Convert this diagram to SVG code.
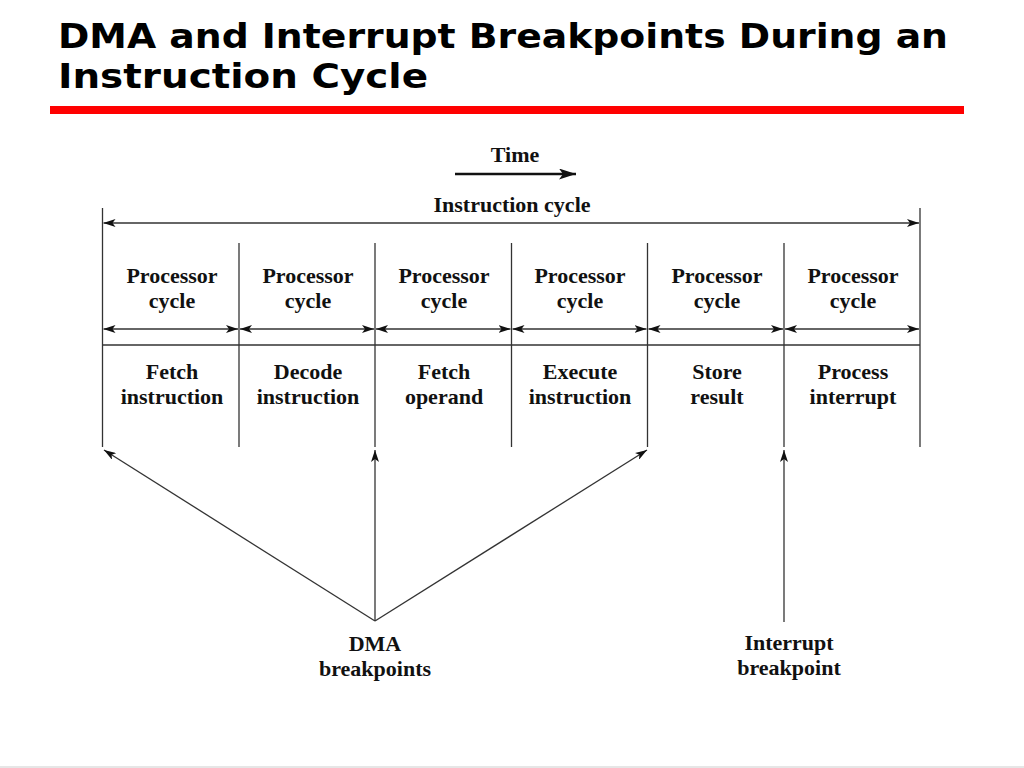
<svg xmlns="http://www.w3.org/2000/svg" width="1024" height="768" viewBox="0 0 1024 768">
<defs>
<marker id="ah" viewBox="0 0 12 8" refX="12" refY="4" markerWidth="12" markerHeight="8" markerUnits="userSpaceOnUse" orient="auto-start-reverse">
<path d="M0,0 L12,4 L0,8 L3,4 z" fill="#111"/>
</marker>
<marker id="ahb" viewBox="0 0 17 11" refX="17" refY="5.5" markerWidth="17" markerHeight="11" markerUnits="userSpaceOnUse" orient="auto">
<path d="M0,0 L17,5.5 L0,11 L4,5.5 z" fill="#111"/>
</marker>
<style>
.t{font-family:"Liberation Serif","Times New Roman",serif;font-weight:bold;font-size:22px;fill:#111;text-anchor:middle}
.ttl{font-family:"DejaVu Sans","Liberation Sans",sans-serif;font-weight:bold;font-size:34px;fill:#000}
.ln{stroke:#333;stroke-width:1.3;fill:none}
.ar{stroke:#333;stroke-width:1.3;fill:none;marker-end:url(#ah)}
.ar2{stroke:#333;stroke-width:1.3;fill:none;marker-start:url(#ah);marker-end:url(#ah)}
</style>
</defs>
<rect width="1024" height="768" fill="#fff"/>
<g id="title">
<text class="ttl" x="58" y="48" textLength="890" lengthAdjust="spacingAndGlyphs">DMA and Interrupt Breakpoints During an</text>
<text class="ttl" x="58" y="88" textLength="370" lengthAdjust="spacingAndGlyphs">Instruction Cycle</text>
<rect x="50" y="106" width="914" height="8" fill="#f00"/>
</g>
<g id="time">
<text class="t" x="515" y="162">Time</text>
<line x1="455" y1="174" x2="576" y2="174" stroke="#111" stroke-width="2.5" marker-end="url(#ahb)"/>
</g>
<g id="instruction-cycle">
<text class="t" x="512" y="212">Instruction cycle</text>
</g>
<g id="frame">
<line class="ln" x1="102.5" y1="208" x2="102.5" y2="447"/>
<line class="ln" x1="920" y1="208" x2="920" y2="447"/>
<line class="ln" x1="239" y1="243" x2="239" y2="447"/>
<line class="ln" x1="375" y1="243" x2="375" y2="447"/>
<line class="ln" x1="511.5" y1="243" x2="511.5" y2="447"/>
<line class="ln" x1="647.5" y1="243" x2="647.5" y2="447"/>
<line class="ln" x1="784" y1="243" x2="784" y2="447"/>
<line x1="102.5" y1="345" x2="920" y2="345" stroke="#333" stroke-width="1.6"/>
</g>
<g id="cycle1">
<text class="t" x="172" y="283">Processor</text><text class="t" x="172" y="308">cycle</text>
<text class="t" x="172" y="379">Fetch</text><text class="t" x="172" y="404">instruction</text>
</g>
<g id="cycle2">
<text class="t" x="308" y="283">Processor</text><text class="t" x="308" y="308">cycle</text>
<text class="t" x="308" y="379">Decode</text><text class="t" x="308" y="404">instruction</text>
</g>
<g id="cycle3">
<text class="t" x="444" y="283">Processor</text><text class="t" x="444" y="308">cycle</text>
<text class="t" x="444" y="379">Fetch</text><text class="t" x="444" y="404">operand</text>
</g>
<g id="cycle4">
<text class="t" x="580" y="283">Processor</text><text class="t" x="580" y="308">cycle</text>
<text class="t" x="580" y="379">Execute</text><text class="t" x="580" y="404">instruction</text>
</g>
<g id="cycle5">
<text class="t" x="717" y="283">Processor</text><text class="t" x="717" y="308">cycle</text>
<text class="t" x="717" y="379">Store</text><text class="t" x="717" y="404">result</text>
</g>
<g id="cycle6">
<text class="t" x="853" y="283">Processor</text><text class="t" x="853" y="308">cycle</text>
<text class="t" x="853" y="379">Process</text><text class="t" x="853" y="404">interrupt</text>
</g>
<g id="dma">
<text class="t" x="375" y="651">DMA</text>
<text class="t" x="375" y="676">breakpoints</text>
</g>
<g id="interrupt">
<text class="t" x="789" y="650">Interrupt</text>
<text class="t" x="789" y="675">breakpoint</text>
</g>
<g id="connectors">
<line class="ar2" x1="103.5" y1="223" x2="919" y2="223"/>
<line class="ar2" x1="103.5" y1="329" x2="238" y2="329"/>
<line class="ar2" x1="240" y1="329" x2="374" y2="329"/>
<line class="ar2" x1="376" y1="329" x2="510.5" y2="329"/>
<line class="ar2" x1="512.5" y1="329" x2="646.5" y2="329"/>
<line class="ar2" x1="648.5" y1="329" x2="783" y2="329"/>
<line class="ar2" x1="785" y1="329" x2="919" y2="329"/>
<line class="ar" x1="375" y1="621" x2="104" y2="450"/>
<line class="ar" x1="375" y1="621" x2="375" y2="450"/>
<line class="ar" x1="375" y1="621" x2="647" y2="450"/>
<line class="ar" x1="784" y1="622" x2="784" y2="450"/>
</g>
<line x1="0" y1="767" x2="1024" y2="767" stroke="#e6e6e6" stroke-width="2"/>
</svg>
